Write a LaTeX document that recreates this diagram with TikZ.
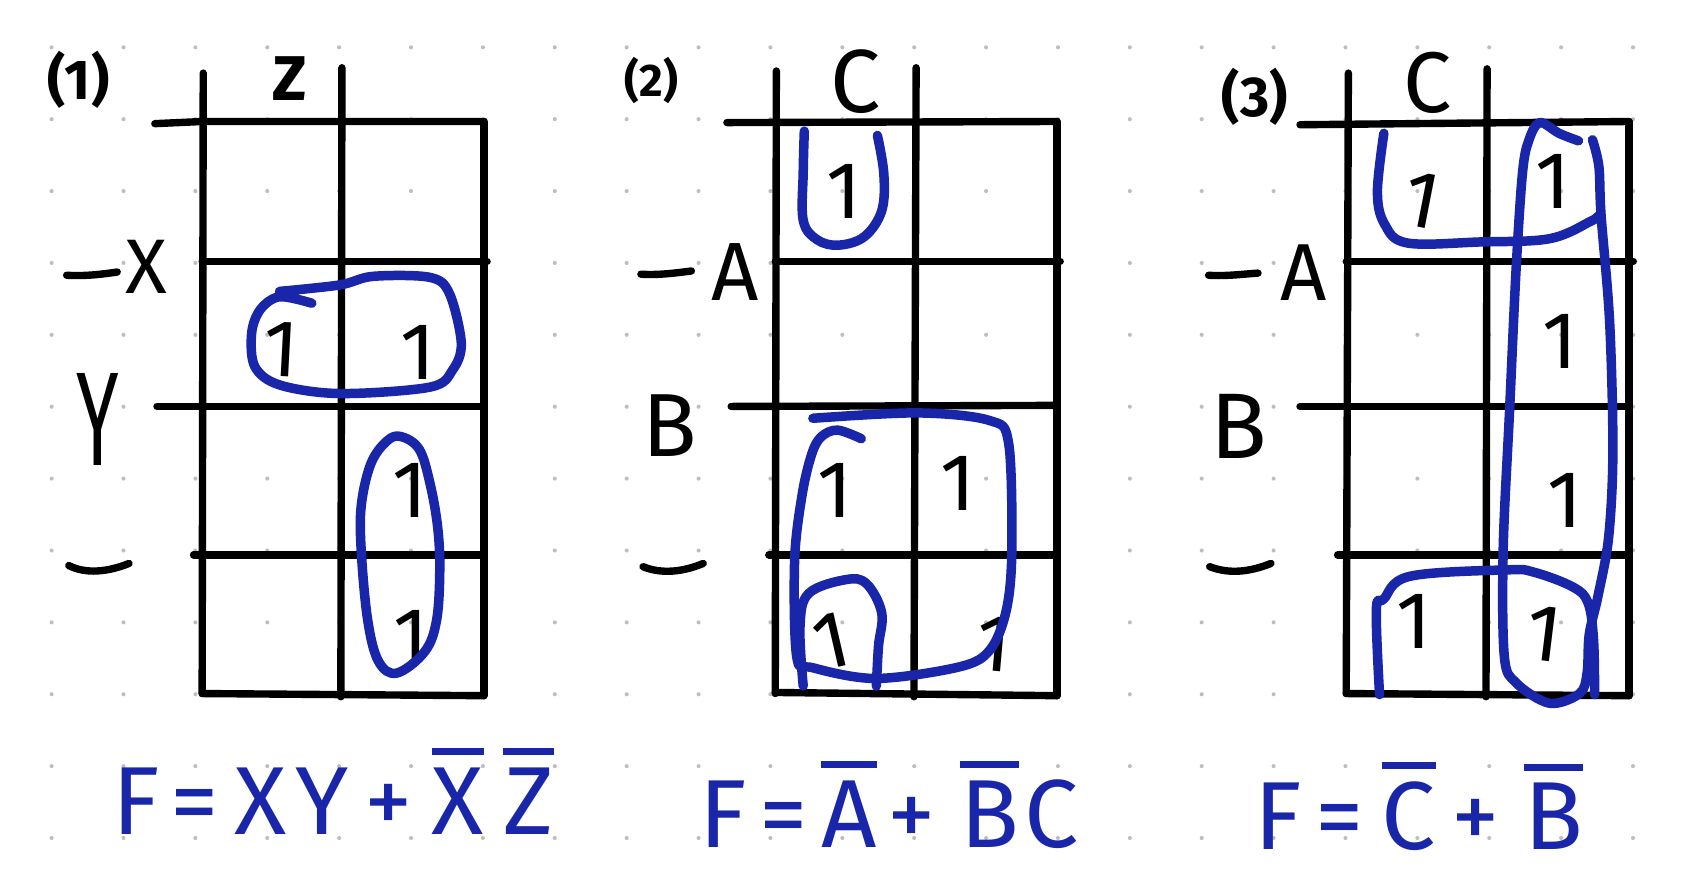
\documentclass[tikz,border=0pt]{standalone}
\usepackage{fontspec}
\setmainfont{Fira Sans}
\definecolor{pen}{RGB}{26,38,170}
\definecolor{dotc}{RGB}{190,190,190}
\newcommand\myfs[1]{\fontsize{#1}{#1}\selectfont}
\newcommand\ovl[1]{\leavevmode\vbox{\hrule height 4pt\kern 7pt\hbox{#1}}}
\begin{document}
\begin{tikzpicture}[x=0.0215cm,y=-0.0215cm,
  ink/.style={line width=4.2pt,line cap=round,line join=round,black},
  loopline/.style={line width=5.4pt,line cap=round,line join=round,pen},
  lbl/.style={inner sep=0pt,black},
  onedigit/.style={inner sep=0pt,black,font=\myfs{46}},
  eqn/.style={inner sep=0pt,anchor=base west,text=pen,font=\myfs{55}}]

\useasboundingbox (0,0) rectangle (1568,832);
\fill[white] (0,0) rectangle (1568,832);
\foreach \i in {0,...,22} \foreach \j in {0,...,11}
  \fill[dotc] (48+66.85*\i, 44+66.85*\j) circle (1.9);

% ---------- map 1 ----------
\draw[ink] (189,68) -- (188,645);
\draw[ink] (318,63) -- (317,648);
\draw[ink] (450,113) -- (450,647);
\draw[ink] (144,115) -- (188,113) -- (450,113);
\draw[ink] (188,243) -- (453,243);
\draw[ink] (146,378) -- (450,378);
\draw[ink] (180,516) -- (450,516);
\draw[ink] (188,645) -- (450,647);
\draw[ink] (62,256) .. controls (80,257) and (95,255) .. (109,253);
\draw[ink] (64,526) .. controls (80,534) and (100,532) .. (120,524);

\node[lbl,font=\myfs{32}\bfseries] (p1) at (73,74) {(1)};
\node[lbl,font=\myfs{36}\bfseries] (z1) at (269,73) {Z};
\node[lbl,font=\myfs{44}] (x1) at (136,248) {X};
\node[lbl,font=\myfs{40}] (y1) at (91,390) {\scalebox{1.1}[1.9]{Y}};

\node[onedigit,rotate=-3] (o11) at (262,325) {1};
\node[onedigit] (o12) at (389,328) {1};
\node[onedigit] (o13) at (381,456) {1};
\node[onedigit] (o14) at (382,593) {1};

\draw[loopline] plot[smooth,tension=0.55] coordinates {(260,271) (316,265) (347,257) (400,258) (418,273) (429,319) (421,344) (400,360) (316,366) (260,358) (237,341) (234,310) (242,288) (260,276) (290,282)};
\draw[loopline] plot[smooth cycle,tension=0.6] coordinates {(373,406) (390,418) (400,450) (407,490) (409,530) (406,577) (395,606) (369,626) (352,615) (342,577) (336,513) (336,470) (345,431) (360,410)};

% ---------- map 2 ----------
\draw[ink] (722,66) -- (721,645);
\draw[ink] (852,63) -- (850,648);
\draw[ink] (983,113) -- (983,647);
\draw[ink] (676,114) -- (983,113);
\draw[ink] (721,243) -- (986,243);
\draw[ink] (680,378) -- (983,377);
\draw[ink] (715,516) -- (983,516);
\draw[ink] (721,644) -- (983,647);
\draw[ink] (596,255) .. controls (612,256) and (628,254) .. (643,252);
\draw[ink] (598,527) .. controls (615,534) and (635,532) .. (654,524);

\node[lbl,font=\myfs{26}\bfseries] (p2) at (606,75) {(2)};
\node[lbl,font=\myfs{51}] (c2) at (796,76) {C};
\node[lbl,font=\myfs{47}] (a2) at (684,253) {A};
\node[lbl,font=\myfs{51}] (b2) at (623,396) {B};

\node[onedigit] (o21) at (785,178) {1};
\node[onedigit] (o22) at (777,456) {1};
\node[onedigit] (o23) at (891,450) {1};
\node[onedigit,rotate=13] (o24) at (773,596) {1};
\node[onedigit,rotate=-5] (o25) at (925,599) {1};

\draw[loopline] plot[smooth,tension=0.6] coordinates {(748,122) (747,160) (747,205) (760,223) (780,228) (804,220) (820,196) (822,162) (816,126)};
\draw[loopline] plot[smooth,tension=0.55] coordinates {(756,389) (853,384) (920,391) (938,412) (941,512) (936,567) (921,604) (893,620) (815,631) (756,621) (741,611) (739,521) (746,460) (755,422) (764,406) (779,400) (801,408)};
\draw[loopline] plot[smooth,tension=0.6] coordinates {(747,638) (744,583) (752,552) (787,539) (806,543) (820,570) (817,601) (815,638)};

% ---------- map 3 ----------
\draw[ink] (1254,68) -- (1252,645);
\draw[ink] (1383,64) -- (1382,648);
\draw[ink] (1515,113) -- (1515,647);
\draw[ink] (1209,116) -- (1515,113);
\draw[ink] (1252,243) -- (1519,243);
\draw[ink] (1209,378) -- (1515,378);
\draw[ink] (1244,516) -- (1515,516);
\draw[ink] (1252,645) -- (1515,647);
\draw[ink] (1124,256) .. controls (1140,257) and (1155,255) .. (1170,254);
\draw[ink] (1125,527) .. controls (1143,534) and (1162,532) .. (1182,524);

\node[lbl,font=\myfs{32}\bfseries] (p3) at (1167,90) {(3)};
\node[lbl,font=\myfs{49}] (c3) at (1328,77) {C};
\node[lbl,font=\myfs{46}] (a3) at (1212,254) {A};
\node[lbl,font=\myfs{53}] (b3) at (1152,397) {B};

\node[onedigit,rotate=-11] (o31) at (1322,186) {1};
\node[onedigit] (o32) at (1444,169) {1};
\node[onedigit] (o33) at (1451,318) {1};
\node[onedigit] (o34) at (1455,465) {1};
\node[onedigit] (o35) at (1315,578) {1};
\node[onedigit,rotate=-7] (o36) at (1436,589) {1};

\draw[loopline] plot[smooth,tension=0.6] coordinates {(1287,124) (1281,179) (1288,209) (1309,226) (1377,225) (1441,222) (1479,206) (1486,201)};
\draw[loopline] plot[smooth,tension=0.6] coordinates {(1283,646) (1280,567) (1287,557) (1311,536) (1401,530) (1426,532) (1463,546) (1477,561) (1482,595) (1483,646)};
\draw[loopline] plot[smooth,tension=0.55] coordinates {(1468,131) (1450,124) (1432,114) (1422,130) (1416,160) (1410,250) (1404,380) (1398,510) (1399,610) (1410,635) (1441,654) (1469,645) (1476,626) (1478,590) (1486,555) (1496,500) (1500,420) (1497,300) (1489,200) (1487,155) (1481,130)};

% ---------- equations ----------
\node[eqn] (e1) at (104,776) {F\hspace{6pt}=\hspace{9pt}X\hspace{5pt}Y\hspace{9pt}+\hspace{11pt}\ovl{X}\hspace{11pt}\ovl{Z}};
\node[eqn] (e2) at (650,788) {F\hspace{7pt}=\hspace{8pt}\ovl{A}\hspace{6pt}+\hspace{14pt}\ovl{B}\hspace{3pt}C};
\node[eqn] (e3) at (1166,790) {F\hspace{8pt}=\hspace{10pt}\ovl{C}\hspace{9pt}+\hspace{14pt}\ovl{B}};
\end{tikzpicture}
\end{document}
